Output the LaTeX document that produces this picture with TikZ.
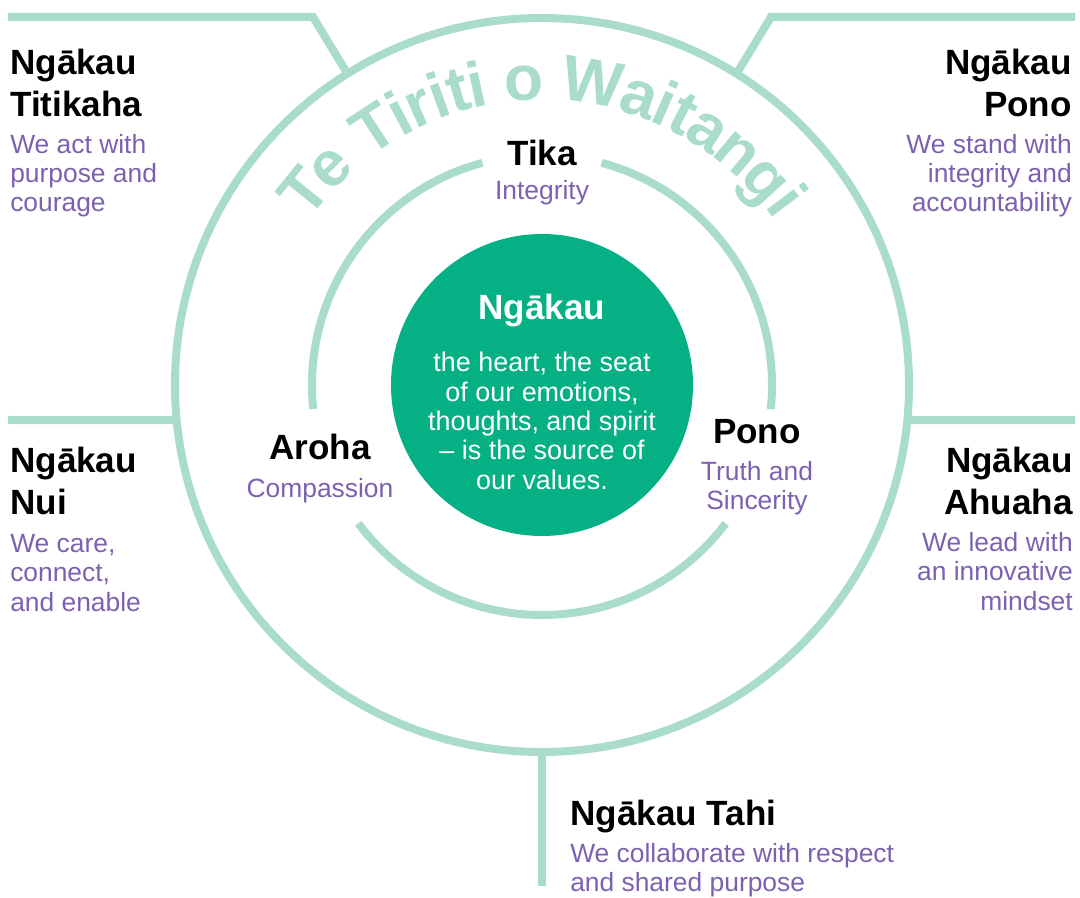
\documentclass[tikz,border=0pt]{standalone}
\usepackage{fontspec}
\setmainfont{Liberation Sans}

\definecolor{mint}{RGB}{169,220,203}
\definecolor{heartgreen}{RGB}{4,176,132}
\definecolor{valpurple}{RGB}{123,97,176}

\tikzset{
  ring/.style={draw=mint, line width=6pt},
  arcletter/.style={inner sep=0pt, text=mint, anchor=base, font=\fontsize{48}{52}\selectfont\bfseries},
  valtitle/.style={inner sep=0pt, font=\fontsize{26.3}{31.5}\selectfont\bfseries},
  valtext/.style={inner sep=0pt, text=valpurple, font=\fontsize{19.8}{21.8}\selectfont},
}

\begin{document}
\begin{tikzpicture}[x=0.75pt, y=0.75pt]
	\useasboundingbox (-542,-513) rectangle (538,385);
	% Rings
	\node (outer) [circle, ring, minimum size=550.5pt, outer sep=0pt] at (0,0) {};
	\draw[ring] (105:230) arc[start angle=105, end angle=186, radius=230];
	\draw[ring] (217:230) arc[start angle=217, end angle=323, radius=230];
	\draw[ring] (354:230) arc[start angle=354, end angle=435, radius=230];
	\node (heart) [circle, fill=heartgreen, minimum size=226.5pt, inner sep=0pt] at (0,0) {};
	
	% Te Tiriti o Waitangi, one letter at a time round the ring
	\foreach \ch/\ang [count=\k] in {T/140.9, e/134.2, T/123.3, i/117.8, r/113.8, i/109.7, t/106.0, i/102.3,
		o/93.4, W/80.5, a/71.3, i/66.3, t/62.5, a/57.0, n/49.9, g/42.5, i/37.0}
		\node (arcl\k) [arcletter, rotate=\ang-90] at (\ang:285) {\ch};
	
	% Lines out to the values
	\coordinate (tlend) at (-534,368);
	\coordinate (tlbend) at (-229,368);
	\coordinate (trend) at (533,368);
	\coordinate (trbend) at (229,368);
	\coordinate (mlend) at (-534,-35);
	\coordinate (mlring) at (185.5:367);
	\coordinate (mrend) at (533,-35);
	\coordinate (mrring) at (354.5:367);
	\coordinate (botend) at (0,-501);
	\draw[ring] (tlend) -- (tlbend) -- (outer.122);
	\draw[ring] (trend) -- (trbend) -- (outer.58);
	\draw[ring] (mlend) -- (mlring);
	\draw[ring] (mrend) -- (mrring);
	\draw[ring] (outer.south) -- (botend);
	
	% Centre
	\node (heartname) [valtitle, text=white, anchor=base] at (0,65) {Ngākau};
	\node (hearttext) [inner sep=0pt, text=white, font=\fontsize{20.2}{22}\selectfont, align=center, anchor=base] at (0,-104.3)
		{the heart, the seat\\of our emotions,\\thoughts, and spirit\\– is the source of\\our values.};
	
	% Inner values
	\node (tika) [valtitle, anchor=base] at (0,219) {Tika};
	\node (tikatext) [valtext, anchor=base] at (0,185) {Integrity};
	\node (aroha) [valtitle, anchor=base] at (-222,-75) {Aroha};
	\node (arohatext) [valtext, anchor=base] at (-222,-112.3) {Compassion};
	\node (pono) [valtitle, anchor=base] at (215,-58.3) {Pono};
	\node (ponotext) [valtext, anchor=base, align=center] at (215,-125) {Truth and\\Sincerity};
	
	% Outer values
	\node (titikaha) [valtitle, anchor=base west, align=left] at (-532,268) {Ngākau\\Titikaha};
	\node (titikahatext) [valtext, anchor=base west, align=left] at (-532,173.3) {We act with\\purpose and\\courage};
	\node (ngpono) [valtitle, anchor=base east, align=right] at (530,268) {Ngākau\\Pono};
	\node (ngponotext) [valtext, anchor=base east, align=right] at (530,173.3) {We stand with\\integrity and\\accountability};
	\node (nui) [valtitle, anchor=base west, align=left] at (-532,-130) {Ngākau\\Nui};
	\node (nuitext) [valtext, anchor=base west, align=left] at (-532,-226) {We care,\\connect,\\and enable};
	\node (ahuaha) [valtitle, anchor=base east, align=right] at (531,-130) {Ngākau\\Ahuaha};
	\node (ahuahatext) [valtext, anchor=base east, align=right] at (531,-225) {We lead with\\an innovative\\mindset};
	\node (tahi) [valtitle, anchor=base west] at (28,-440) {Ngākau Tahi};
	\node (tahitext) [valtext, anchor=base west, align=left] at (28,-506.7) {We collaborate with respect\\and shared purpose};
\end{tikzpicture}
\end{document}
